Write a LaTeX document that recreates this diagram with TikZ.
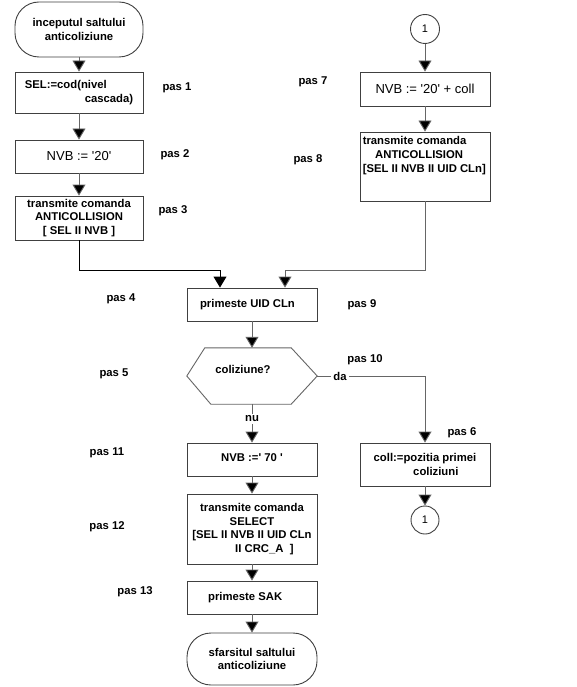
\documentclass[tikz,border=0pt]{standalone}
\usepackage{fontspec}
\setmainfont{Liberation Sans}
\newfontfamily\arialf{Liberation Sans}
\usetikzlibrary{arrows.meta,positioning,calc}
\begin{document}
\begin{tikzpicture}[x=1pt,y=-1pt,
  txt/.style={font=\arialf\fontsize{11.3}{13.8}\selectfont\bfseries, inner sep=1pt},
  box/.style={draw=black!75, line width=0.9pt, rectangle, minimum width=130pt, inner sep=2pt, font=\arialf\fontsize{11.3}{13.8}\selectfont\bfseries, align=center},
  term/.style={box, rounded corners=24pt},
  conn/.style={circle, draw=black!75, line width=0.9pt, minimum size=29pt, inner sep=0pt, font=\arialf\fontsize{11}{12}\selectfont},
  pas/.style={font=\arialf\fontsize{11.3}{12}\selectfont\bfseries, inner sep=1pt},
  arr/.style={draw=black!60, line width=0.9pt, -{Triangle[width=13pt,length=11pt,fill=black]}},
  lbl/.style={font=\arialf\fontsize{11.3}{12}\selectfont\bfseries, fill=white, inner sep=2pt}
]
\useasboundingbox (0,0) rectangle (576,687);
\fill[white] (0,0) rectangle (576,687);

% left column
\node[term, minimum width=128pt, minimum height=55pt] (start) at (79,29.5) {inceputul saltului\\anticoliziune};
\node[box, minimum width=128pt, minimum height=41pt, align=left] (b1) at (79,92.5) {SEL:=cod(nivel\\\hspace*{5.3em}cascada)};
\node[box, minimum width=128pt, minimum height=33pt, font=\arialf\fontsize{13}{15}\selectfont] (b2) at (79,156.5) {NVB := '20'};
\node[box, minimum width=128pt, minimum height=44pt] (b3) at (79,218) {transmite comanda\\ANTICOLLISION\\{[} SEL II NVB ]};

% right column
\node[conn] (c1) at (425,29) {1};
\node[box, minimum height=34pt, font=\arialf\fontsize{13}{15}\selectfont] (r1) at (425,89) {NVB := '20' + coll};
\node[box, minimum height=69pt] (r2) at (425,166.5) {};
\node[txt, align=left, anchor=north west] (r2t) at ([xshift=2pt,yshift=-4pt]r2.north west) {transmite comanda\\\hspace*{1.1em}ANTICOLLISION\\{[}SEL II NVB II UID CLn]};

% middle column
\node[box, minimum height=33pt] (m1) at (252,304.5) {\hspace*{-0.8em}primeste UID CLn};
\node[minimum width=130pt, minimum height=56pt, inner sep=0pt] (hex) at (252,376) {};
\draw[draw=black!60, line width=0.9pt] (hex.west) -- ([xshift=18pt]hex.north west) -- ([xshift=-26pt]hex.north east) -- (hex.east) -- ([xshift=-26pt]hex.south east) -- ([xshift=24pt]hex.south west) -- cycle;
\node[txt] (hext) at (243,369) {coliziune?};

\node[box, minimum height=33pt] (n1) at (252,459.5) {\raisebox{3pt}{NVB :=' 70 '}};
\node[box, minimum height=70pt] (n2) at (252,529) {transmite comanda\\SELECT\\{[}SEL II NVB II UID CLn\\\hspace*{2.2em}II CRC\_A\ \ ]};
\node[box, minimum height=33pt] (n3) at (252,597.5) {\hspace*{-1.2em}\raisebox{2pt}{primeste SAK}};
\node[term, minimum height=52pt] (end) at (252,659) {sfarsitul saltului\\anticoliziune};

\node[box, minimum height=43pt, align=left] (coll) at (425,464.5) {coll:=pozitia primei\\\hspace*{3.5em}coliziuni};
\node[conn, minimum size=28pt] (c2) at (425,520) {1};

% step labels
\node[pas] (p1) at (177,88) {pas 1};
\node[pas] (p2) at (175,155) {pas 2};
\node[pas] (p3) at (173,211) {pas 3};
\node[pas] (p4) at (121,299) {pas 4};
\node[pas] (p5) at (114,374) {pas 5};
\node[pas] (p6) at (462,433) {pas 6};
\node[pas] (p7) at (313,82) {pas 7};
\node[pas] (p8) at (308,160) {pas 8};
\node[pas] (p9) at (362,305) {pas 9};
\node[pas] (p10) at (365,360) {pas 10};
\node[pas] (p11) at (107,453) {pas 11};
\node[pas] (p12) at (107,527) {pas 12};
\node[pas] (p13) at (135,592) {pas 13};

% junctions
\coordinate (j1) at (220,270);
\coordinate (j2) at (285,270);
\coordinate (jd) at (425,376);

% connectors
\draw[arr] (start) -- (b1);
\draw[arr] (b1) -- (b2);
\draw[arr] (b2) -- (b3);
\draw[arr, draw=black] (b3.south) |- (j1) -- (j1 |- m1.north);
\draw[arr] (c1) -- (r1);
\draw[arr] (r1) -- (r2);
\draw[arr] (r2.south) |- (j2) -- (j2 |- m1.north);
\draw[arr] (m1.south) -- (hex.north);
\draw[arr] (hex.east) -- (jd) -- (coll.north);
\node[lbl] (da) at (340,376) {da};
\draw[arr] (hex.south) -- (n1.north);
\node[lbl] (nu) at (252,419) {nu};
\draw[arr] (n1) -- (n2);
\draw[arr] (n2) -- (n3);
\draw[arr] (n3) -- (end);
\draw[arr] (coll) -- (c2);
\end{tikzpicture}
\end{document}
